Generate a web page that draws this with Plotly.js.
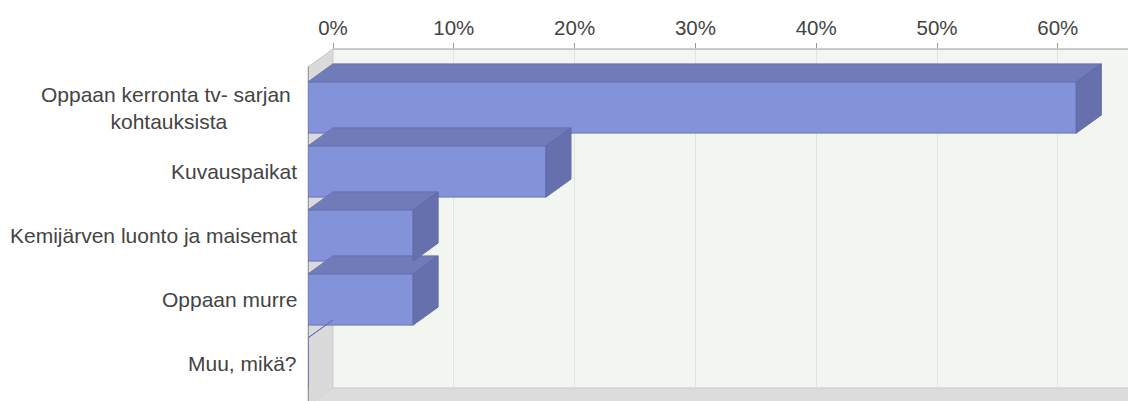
<!DOCTYPE html>
<html>
<head>
<meta charset="utf-8">
<script src="https://cdn.plot.ly/plotly-3.0.1.min.js"></script>
<style>html,body{margin:0;padding:0;background:#fff;}#chart{width:1128px;height:401px;}</style>
</head>
<body>
<div id="chart"></div>
<script>
// ---- data ----
const categories = ['Oppaan kerronta tv- sarjan\u00a0<br>kohtauksista', 'Kuvauspaikat', 'Kemijärven luonto ja maisemat', 'Oppaan murre', 'Muu, mikä?'];
const values = [63.6, 19.7, 8.7, 8.7, 0];
const tickVals = [0, 10, 20, 30, 40, 50, 60];
const tickText = ['0%', '10%', '20%', '30%', '40%', '50%', '60%'];

// ---- geometry (pixels of the 1128x401 canvas) ----
const PL = 308, PR = 1128, PT = 49, PB = 388;
const PX_PER_PCT = 12.08;
const DEPTH_PX = 25, DEPTH_PY = 18;
const ROW_PX = 64, FIRST_ROW_PY = 107.5;
const D_X = DEPTH_PX / PX_PER_PCT;     // depth in x data units
const D_Y = DEPTH_PY / ROW_PX;         // depth in category units
const HALF = 0.4;                      // half bar thickness

const X = px => (px - PL) / (PR - PL);
const Y = py => (PB - py) / (PB - PT);

const idx = categories.map((_, i) => i);

// top faces
const topX = [], topY = [];
values.forEach((v, i) => {
  topX.push(0, v, v + D_X, D_X, 0, null);
  topY.push(i - HALF, i - HALF, i - HALF - D_Y, i - HALF - D_Y, i - HALF, null);
});
// side faces
const sideX = [], sideY = [];
values.forEach((v, i) => {
  if (v <= 0) return;
  sideX.push(v, v + D_X, v + D_X, v, v, null);
  sideY.push(i - HALF, i - HALF - D_Y, i + HALF - D_Y, i + HALF, i - HALF, null);
});

const font = {family: 'Liberation Sans, Arial, sans-serif', size: 21, color: '#444'};
const tickFont = {family: 'Liberation Sans, Arial, sans-serif', size: 20.5, color: '#444'};

const traces = [
  {type: 'bar', orientation: 'h', x: values, y: idx, width: 2 * HALF,
   marker: {color: '#8393d9', line: {color: '#6a76b5', width: 1}}, hoverinfo: 'skip'},
  {type: 'scatter', mode: 'lines', x: topX, y: topY, fill: 'toself', fillcolor: '#707bba',
   line: {color: '#6671b2', width: 1}, hoverinfo: 'skip'},
  {type: 'scatter', mode: 'lines', x: sideX, y: sideY, fill: 'toself', fillcolor: '#6670ad',
   line: {color: '#5f69a8', width: 1}, hoverinfo: 'skip'},
  {type: 'scatter', mode: 'lines', x: [], y: [], xaxis: 'x2', hoverinfo: 'skip'}
];

const yTop = (PT - FIRST_ROW_PY) / ROW_PX;
const yBot = (PB - FIRST_ROW_PY) / ROW_PX;

const layout = {
  width: 1128, height: 401,
  margin: {l: PL, r: 1128 - PR, t: PT, b: 401 - PB, pad: 0},
  paper_bgcolor: '#ffffff', plot_bgcolor: '#ffffff',
  showlegend: false,
  barmode: 'overlay',
  xaxis: {range: [0, (PR - PL) / PX_PER_PCT], visible: false, fixedrange: true},
  xaxis2: {overlaying: 'x', side: 'top', anchor: 'y',
    range: [-DEPTH_PX / PX_PER_PCT, (PR - PL - DEPTH_PX) / PX_PER_PCT],
    tickmode: 'array', tickvals: tickVals, ticktext: tickText,
    ticks: 'outside', ticklen: 5, tickcolor: '#999', tickwidth: 1,
    showgrid: true, gridcolor: '#e1e3df', gridwidth: 1, zeroline: false, showline: false,
    tickfont: tickFont, fixedrange: true},
  yaxis: {range: [yBot, yTop], visible: false, fixedrange: true},
  annotations: categories.map((c, i) => ({
    xref: 'paper', x: 0, xshift: -9, xanchor: 'right',
    yref: 'y', y: i, yanchor: 'middle',
    text: c, showarrow: false, align: 'center', font: font
  })),
  shapes: [
    // back wall
    {type: 'rect', xref: 'paper', yref: 'paper', x0: X(333), x1: 1, y0: 0, y1: 1,
     fillcolor: '#f3f5f1', line: {width: 0}, layer: 'below'},
    // left wall
    {type: 'path', xref: 'paper', yref: 'paper',
     path: `M ${X(308)} ${Y(67)} L ${X(333)} ${Y(49)} L ${X(333)} ${Y(388)} L ${X(308)} ${Y(406)} Z`,
     fillcolor: '#dadada', line: {color: '#c4c4c4', width: 1}, layer: 'below'},
    // floor
    {type: 'path', xref: 'paper', yref: 'paper',
     path: `M ${X(333)} ${Y(388)} L ${X(1150)} ${Y(388)} L ${X(1150)} ${Y(406)} L ${X(308)} ${Y(406)} Z`,
     fillcolor: '#dcdcdc', line: {width: 0}, layer: 'below'},
    // floor back edge
    {type: 'line', xref: 'paper', yref: 'paper', x0: X(333), x1: 1, y0: 0, y1: 0,
     line: {color: '#c9c9c9', width: 1}, layer: 'below'},
    // top axis line
    {type: 'line', xref: 'paper', yref: 'paper', x0: X(333), x1: 1, y0: 1, y1: 1,
     line: {color: '#9a9a9a', width: 1}, layer: 'above'},
    // left front edge
    {type: 'line', xref: 'paper', yref: 'paper', x0: X(308.5), x1: X(308.5), y0: Y(66), y1: Y(402),
     line: {color: '#9a9a9a', width: 1}, layer: 'below'}
  ]
};

Plotly.newPlot('chart', traces, layout, {displayModeBar: false, staticPlot: true});
</script>
</body>
</html>
